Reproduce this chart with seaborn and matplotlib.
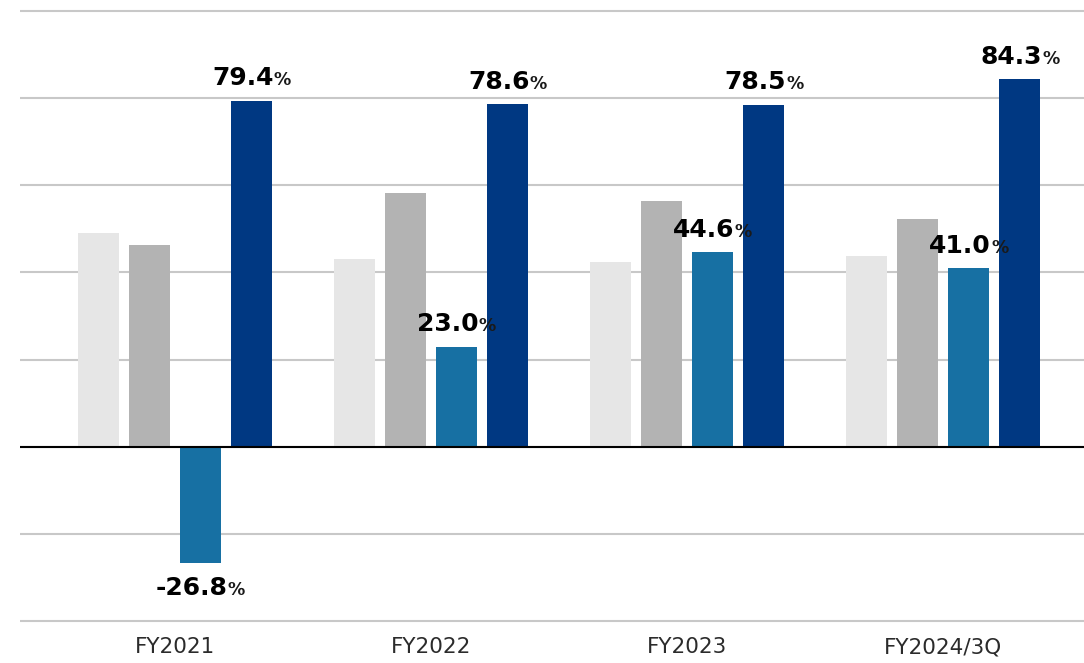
import matplotlib
matplotlib.use("Agg")
import matplotlib.pyplot as plt
import seaborn as sns
import pandas as pd
from matplotlib.offsetbox import TextArea, HPacker, AnnotationBbox

# Fiscal periods on the x axis
periods = ["FY2021", "FY2022", "FY2023", "FY2024/3Q"]

# Four series per period (percent)
series_names = ["Series 1", "Series 2", "Series 3", "Series 4"]
series_1 = [49.0, 43.0, 42.3, 43.8]
series_2 = [46.3, 58.2, 56.4, 52.3]
series_3 = [-26.8, 23.0, 44.6, 41.0]
series_4 = [79.4, 78.6, 78.5, 84.3]

colors = ["#e6e6e6", "#b3b3b3", "#1770a3", "#003882"]

rows = []
for name, vals in zip(series_names, [series_1, series_2, series_3, series_4]):
    for p, v in zip(periods, vals):
        rows.append({"period": p, "series": name, "value": v})
df = pd.DataFrame(rows)

sns.set_theme(style="white")
plt.rcParams["font.family"] = ["DejaVu Sans"]

fig = plt.figure(figsize=(10.84, 6.63), dpi=100)
px_per_unit = 610 / 140
bottom_px = 621 + 1.0 * px_per_unit
ax = fig.add_axes([20 / 1084, (663 - bottom_px) / 663, 1 - 20 / 1084, bottom_px / 663])

sns.barplot(data=df, x="period", y="value", hue="series", order=periods,
            hue_order=series_names, palette=colors, width=0.8, gap=0.2,
            saturation=1, linewidth=0, legend=False, ax=ax, zorder=2)

ax.set_xlim(-0.605, 3.55)
ax.set_ylim(-41, 100 + 11 / px_per_unit)
ax.set_yticks(range(-40, 101, 20))
ax.set_yticklabels([])
ax.tick_params(axis="y", length=0)
ax.tick_params(axis="x", length=0, pad=8.5, labelsize=15.5, labelcolor="#2b2b2b")
ax.set_xlabel("")
ax.set_ylabel("")
ax.yaxis.grid(True, color="#c8c8c8", linewidth=1.5, zorder=0)
ax.set_axisbelow(True)
for s in ax.spines.values():
    s.set_visible(False)
ax.axhline(0, color="black", linewidth=1.5, zorder=3)


def value_label(x, y, value, below=False):
    num = TextArea(f"{value:.1f}", textprops=dict(fontsize=18, fontweight="bold",
                                                  color="black"))
    pct = TextArea("%", textprops=dict(fontsize=12.5, fontweight="bold",
                                       color="#1a1a1a"))
    box = HPacker(children=[num, pct], align="baseline", pad=0, sep=0)
    if below:
        ab = AnnotationBbox(box, (x, y), xybox=(0, -9), boxcoords="offset points",
                            box_alignment=(0.5, 1), frameon=False, pad=0)
    else:
        ab = AnnotationBbox(box, (x, y), xybox=(0, 7.5), boxcoords="offset points",
                            box_alignment=(0.5, 0), frameon=False, pad=0)
    ab.set_zorder(5)
    ax.add_artist(ab)


# Values are labelled on the third and fourth series
for idx, vals in [(2, series_3), (3, series_4)]:
    for bar, v in zip(ax.containers[idx], vals):
        cx = bar.get_x() + bar.get_width() / 2
        value_label(cx, v, v, below=v < 0)

fig.savefig("out.png", dpi=100)
